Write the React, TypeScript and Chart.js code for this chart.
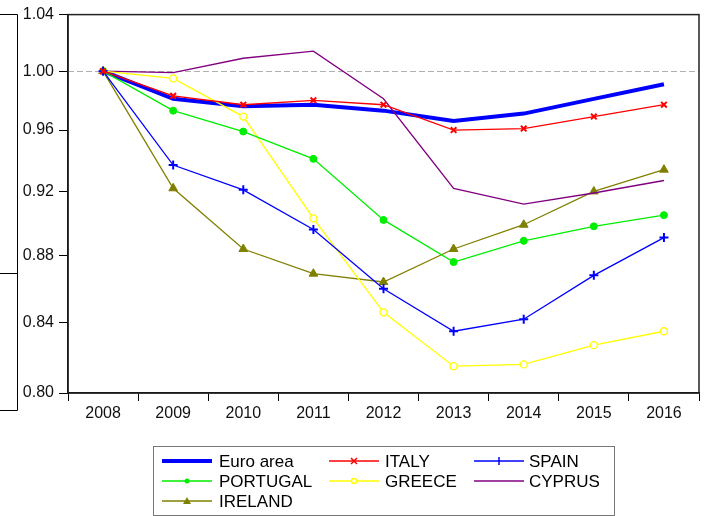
import React, { useEffect, useRef } from "react";
import { Chart, registerables } from "chart.js";

Chart.register(...registerables);

// Years on the horizontal axis
const years = ["2008", "2009", "2010", "2011", "2012", "2013", "2014", "2015", "2016"];

// Index values (2008 = 1.00)
const euroArea = [1.0, 0.981, 0.976, 0.977, 0.973, 0.966, 0.971, 0.981, 0.991];
const italy = [1.0, 0.983, 0.977, 0.98, 0.977, 0.96, 0.961, 0.969, 0.977];
const spain = [1.0, 0.937, 0.921, 0.896, 0.86, 0.835, 0.842, 0.868, 0.891];
const portugal = [1.0, 0.973, 0.959, 0.941, 0.902, 0.876, 0.889, 0.898, 0.905];
const greece = [1.0, 0.995, 0.969, 0.903, 0.846, 0.815, 0.816, 0.827, 0.835];
const cyprus = [1.0, 0.999, 1.009, 1.014, 0.981, 0.922, 0.912, 0.919, 0.927];
const ireland = [1.0, 0.922, 0.884, 0.869, 0.864, 0.884, 0.899, 0.92, 0.934];

// Log-scale axis ticks and the dashed reference level
const yTicks = [0.8, 0.84, 0.88, 0.92, 0.96, 1.0, 1.04];
const referenceLevel = 1.0;

const FONT = "'Liberation Sans', Arial, sans-serif";

type Marker = "none" | "crossRot" | "cross" | "dot" | "ring" | "triangle";

const series: {
  label: string;
  data: number[];
  color: string;
  width: number;
  marker: Marker;
}[] = [
  { label: "Euro area", data: euroArea, color: "#0000ff", width: 4, marker: "none" },
  { label: "ITALY", data: italy, color: "#ff0000", width: 1.3, marker: "crossRot" },
  { label: "SPAIN", data: spain, color: "#0000ff", width: 1.3, marker: "cross" },
  { label: "PORTUGAL", data: portugal, color: "#00ee00", width: 1.3, marker: "dot" },
  { label: "GREECE", data: greece, color: "#ffff00", width: 1.3, marker: "ring" },
  { label: "CYPRUS", data: cyprus, color: "#800080", width: 1.3, marker: "none" },
  { label: "IRELAND", data: ireland, color: "#808000", width: 1.3, marker: "triangle" },
];

function markerOptions(m: Marker, color: string) {
  switch (m) {
    case "crossRot":
      return { pointStyle: "crossRot", pointRadius: 4, pointBorderWidth: 2, pointBackgroundColor: color };
    case "cross":
      return { pointStyle: "cross", pointRadius: 4.5, pointBorderWidth: 2, pointBackgroundColor: color };
    case "dot":
      return { pointStyle: "circle", pointRadius: 3.5, pointBorderWidth: 1, pointBackgroundColor: color };
    case "ring":
      return { pointStyle: "circle", pointRadius: 3.5, pointBorderWidth: 1.3, pointBackgroundColor: "#ffffff" };
    case "triangle":
      return { pointStyle: "triangle", pointRadius: 5, pointBorderWidth: 1, pointBackgroundColor: color };
    default:
      return { pointRadius: 0 };
  }
}

function drawLegendMarker(ctx: CanvasRenderingContext2D, m: Marker, x: number, y: number, color: string) {
  ctx.save();
  ctx.strokeStyle = color;
  ctx.fillStyle = color;
  ctx.lineWidth = 1.5;
  ctx.beginPath();
  if (m === "crossRot") {
    const r = 3;
    ctx.moveTo(x - r, y - r);
    ctx.lineTo(x + r, y + r);
    ctx.moveTo(x + r, y - r);
    ctx.lineTo(x - r, y + r);
    ctx.stroke();
  } else if (m === "cross") {
    const r = 4;
    ctx.moveTo(x, y - r);
    ctx.lineTo(x, y + r);
    ctx.stroke();
  } else if (m === "dot") {
    ctx.arc(x, y, 2.5, 0, Math.PI * 2);
    ctx.fill();
  } else if (m === "ring") {
    ctx.fillStyle = "#ffffff";
    ctx.arc(x, y, 2.5, 0, Math.PI * 2);
    ctx.fill();
    ctx.stroke();
  } else if (m === "triangle") {
    ctx.moveTo(x, y - 4);
    ctx.lineTo(x + 4, y + 3);
    ctx.lineTo(x - 4, y + 3);
    ctx.closePath();
    ctx.fill();
  }
  ctx.restore();
}

// Dashed reference line, frame and the boxed three-column legend
const decorations = {
  id: "decorations",
  beforeDatasetsDraw(chart: any) {
    const { ctx, chartArea } = chart;
    const y = chart.scales.y.getPixelForValue(referenceLevel);
    ctx.save();
    ctx.strokeStyle = "#b0b0b0";
    ctx.lineWidth = 1.2;
    ctx.setLineDash([6, 3]);
    ctx.beginPath();
    ctx.moveTo(chartArea.left, Math.round(y) + 0.5);
    ctx.lineTo(chartArea.right, Math.round(y) + 0.5);
    ctx.stroke();
    ctx.restore();
  },
  afterDraw(chart: any) {
    const { ctx, chartArea } = chart;
    ctx.save();
    // plot frame
    ctx.strokeStyle = "#222";
    ctx.lineWidth = 1.5;
    ctx.strokeRect(chartArea.left, chartArea.top, chartArea.right - chartArea.left, chartArea.bottom - chartArea.top);

    // fragment of a neighbouring frame at the left edge
    ctx.strokeStyle = "#000";
    ctx.lineWidth = 1;
    ctx.beginPath();
    ctx.moveTo(0, 14.5);
    ctx.lineTo(17.5, 14.5);
    ctx.lineTo(17.5, 410.5);
    ctx.lineTo(0, 410.5);
    ctx.moveTo(0, 273.5);
    ctx.lineTo(17.5, 273.5);
    ctx.stroke();

    // legend box
    ctx.strokeStyle = "#777";
    ctx.lineWidth = 1;
    ctx.strokeRect(153.5, 446.5, 461, 69);

    const colSample = [162, 329, 474];
    const colText = [219, 385, 529];
    const rows = [461, 481, 501];
    ctx.font = `17px ${FONT}`;
    ctx.textBaseline = "middle";
    ctx.textAlign = "left";
    series.forEach((s, i) => {
      const col = i % 3;
      const row = Math.floor(i / 3);
      const x0 = colSample[col];
      const yy = rows[row];
      ctx.strokeStyle = s.color;
      ctx.lineWidth = s.width === 4 ? 4 : 1.5;
      ctx.setLineDash([]);
      ctx.beginPath();
      ctx.moveTo(x0, yy);
      ctx.lineTo(x0 + 50, yy);
      ctx.stroke();
      drawLegendMarker(ctx, s.marker, x0 + 25, yy, s.color);
      ctx.fillStyle = "#000";
      ctx.fillText(s.label, colText[col], yy + 1);
    });
    ctx.restore();
  },
};

export default function App() {
  const canvasRef = useRef<HTMLCanvasElement | null>(null);

  useEffect(() => {
    if (!canvasRef.current) return;
    const chart = new Chart(canvasRef.current, {
      type: "line",
      data: {
        labels: years,
        datasets: series.map((s, i) => ({
          label: s.label,
          data: s.data,
          borderColor: s.color,
          borderWidth: s.width,
          pointBorderColor: s.color,
          tension: 0,
          order: i === 0 ? 10 : i,
          ...markerOptions(s.marker, s.color),
        })) as any,
      },
      options: {
        animation: false,
        responsive: false,
        maintainAspectRatio: false,
        layout: { padding: { top: 14, right: 8, left: 0, bottom: 0 } },
        plugins: {
          legend: { display: false },
          tooltip: { enabled: false },
        },
        scales: {
          x: {
            type: "category",
            offset: true,
            grid: {
              offset: true,
              drawOnChartArea: false,
              drawTicks: true,
              tickLength: 8,
              color: "#000",
            },
            border: { color: "#000", width: 1.5 },
            ticks: {
              color: "#111",
              font: { family: FONT, size: 16 },
              padding: 3,
              maxRotation: 0,
            },
            afterFit(scale: any) {
              scale.height = 123;
            },
          },
          y: {
            type: "logarithmic",
            min: 0.8,
            max: 1.04,
            grid: {
              drawOnChartArea: false,
              drawTicks: true,
              tickLength: 9,
              color: "#000",
            },
            border: { color: "#000", width: 1.5 },
            afterBuildTicks(scale: any) {
              scale.ticks = yTicks.map((v) => ({ value: v }));
            },
            ticks: {
              color: "#111",
              font: { family: FONT, size: 16 },
              padding: 5,
              callback: (v: any) => Number(v).toFixed(2),
            },
            afterFit(scale: any) {
              scale.width = 68;
            },
          },
        },
      },
      plugins: [decorations],
    });
    return () => chart.destroy();
  }, []);

  return (
    <div style={{ position: "absolute", left: 0, top: 0, width: 707, height: 516, background: "#fff" }}>
      <canvas ref={canvasRef} width={707} height={516} style={{ width: 707, height: 516, display: "block" }} />
    </div>
  );
}
